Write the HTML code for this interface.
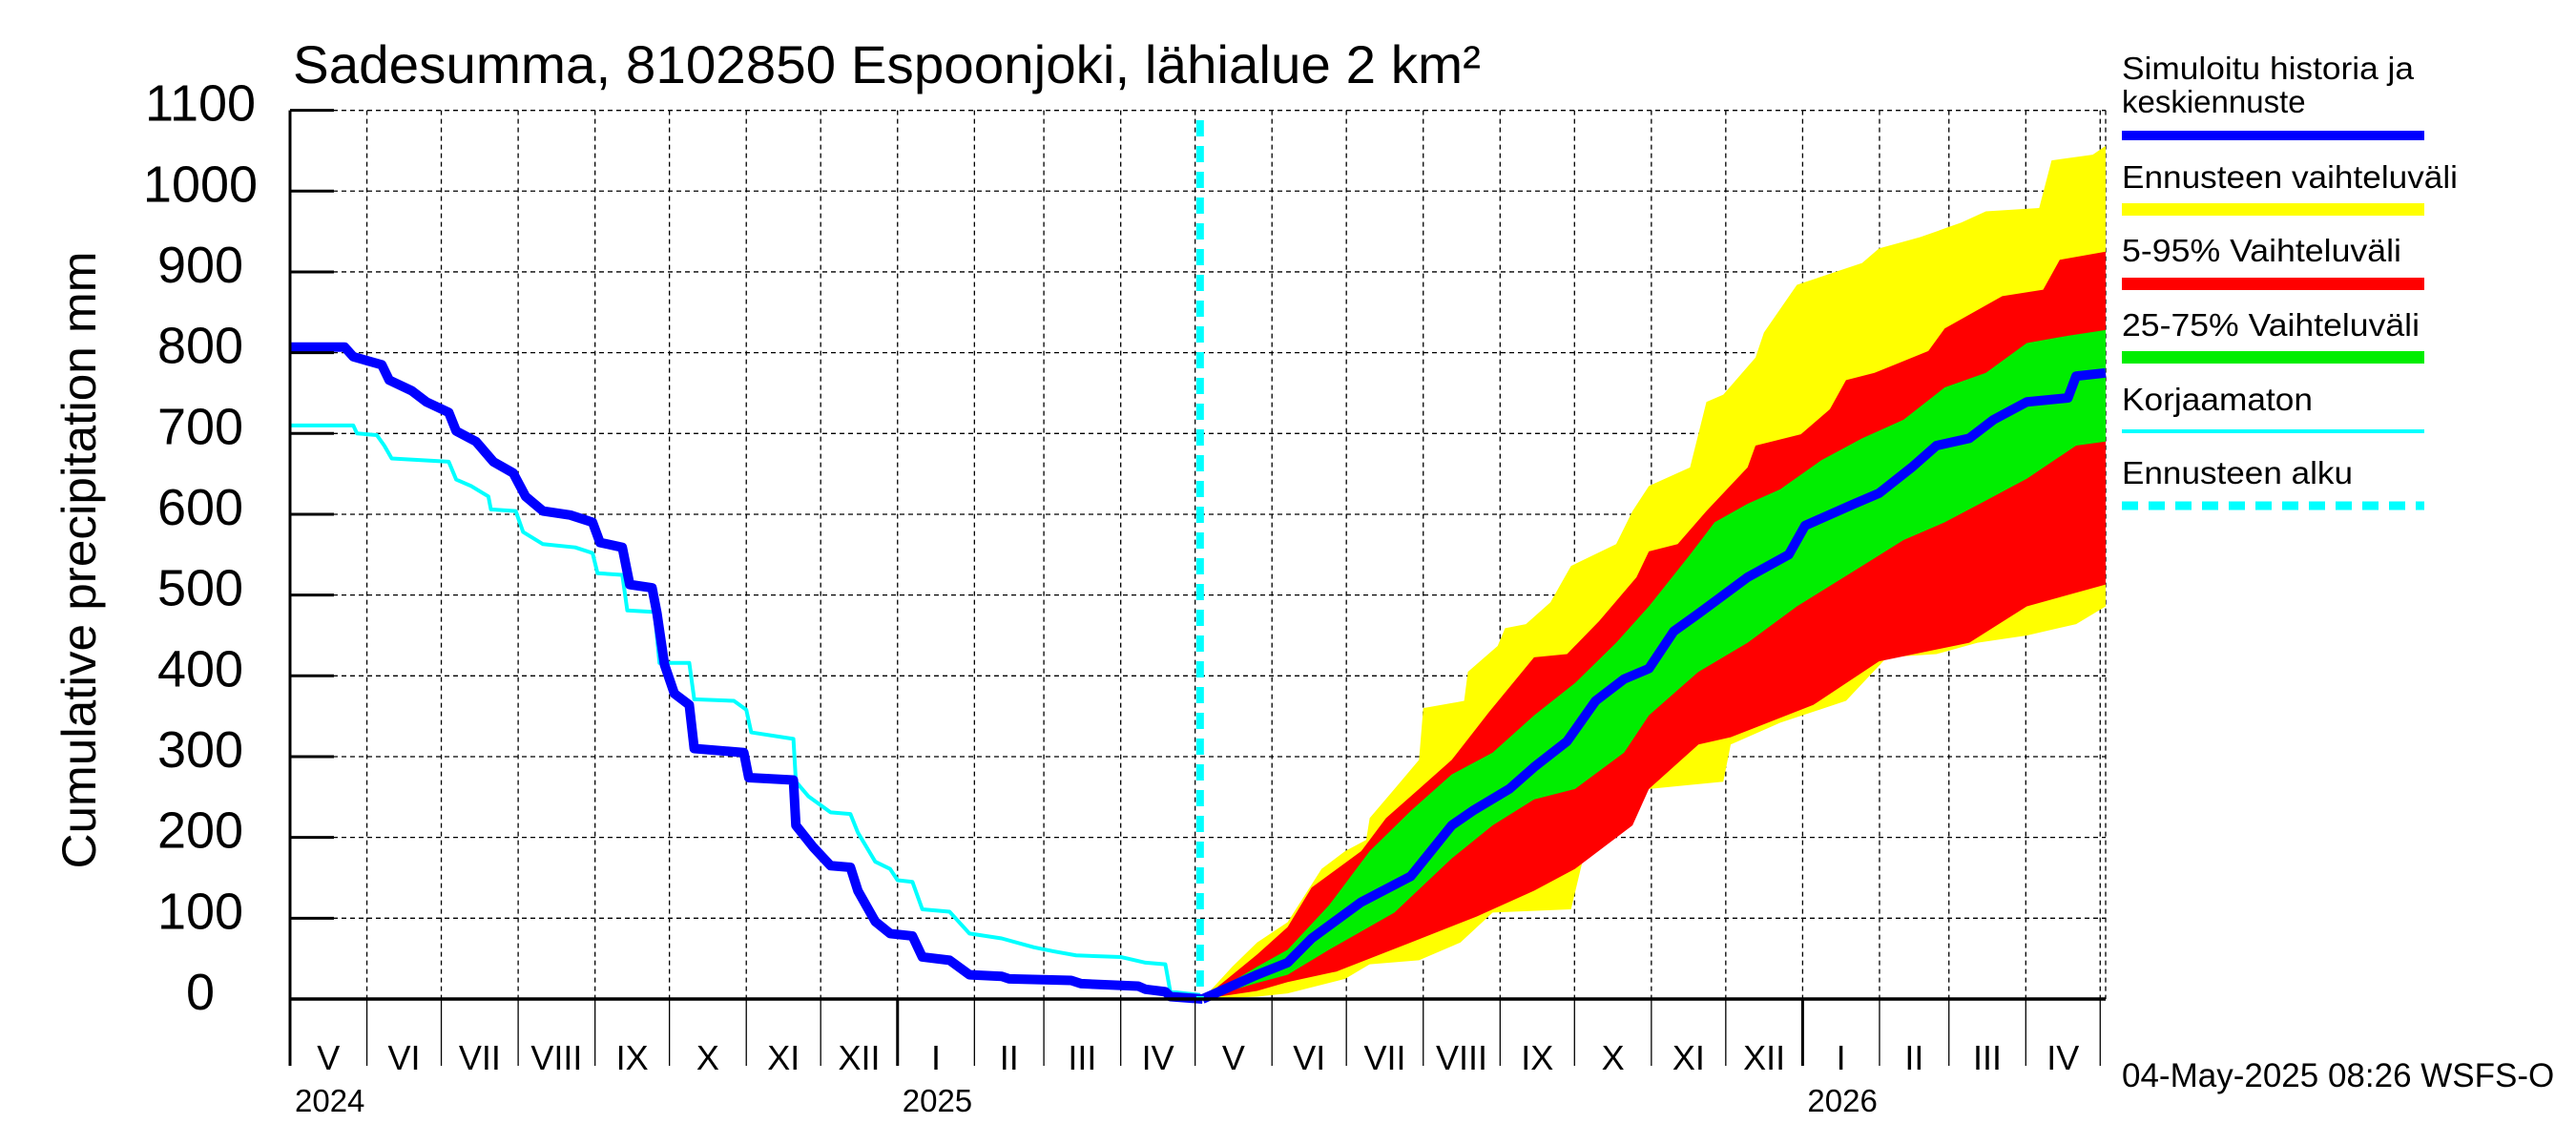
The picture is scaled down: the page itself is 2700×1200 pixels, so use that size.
<!DOCTYPE html>
<html><head><meta charset="utf-8"><style>
html,body{margin:0;padding:0;background:#fff;}
svg{display:block;font-family:"Liberation Sans",sans-serif;}
</style></head><body>
<svg id="chart" width="2700" height="1200" viewBox="0 0 2700 1200" xmlns="http://www.w3.org/2000/svg">
<rect x="0" y="0" width="2700" height="1200" fill="#fff"/>
<text x="307" y="87" font-size="56" textLength="1245" lengthAdjust="spacingAndGlyphs">Sadesumma, 8102850 Espoonjoki, lähialue 2 km²</text>
<text transform="translate(100,587) rotate(-90)" text-anchor="middle" font-size="50" textLength="647" lengthAdjust="spacingAndGlyphs">Cumulative precipitation   mm</text>
<g id="grid"></g>
<g id="bands"></g>
<g id="lines"></g>
<g id="axes"></g>
<g id="legend" font-size="33">
  <text x="2224" y="83" textLength="306" lengthAdjust="spacingAndGlyphs">Simuloitu historia ja</text>
  <text x="2224" y="118">keskiennuste</text>
  <rect x="2224" y="137" width="317" height="10" fill="#0000ff"/>
  <text x="2224" y="197" textLength="352" lengthAdjust="spacingAndGlyphs">Ennusteen vaihteluväli</text>
  <rect x="2224" y="213" width="317" height="13" fill="#ffff00"/>
  <text x="2224" y="274" textLength="293" lengthAdjust="spacingAndGlyphs">5-95% Vaihteluväli</text>
  <rect x="2224" y="291" width="317" height="13" fill="#ff0000"/>
  <text x="2224" y="352" textLength="312" lengthAdjust="spacingAndGlyphs">25-75% Vaihteluväli</text>
  <rect x="2224" y="368" width="317" height="13" fill="#00ee00"/>
  <text x="2224" y="430" textLength="200" lengthAdjust="spacingAndGlyphs">Korjaamaton</text>
  <rect x="2224" y="450" width="317" height="4" fill="#00ffff"/>
  <text x="2224" y="507" textLength="242" lengthAdjust="spacingAndGlyphs">Ennusteen alku</text>
  <line x1="2224" y1="530" x2="2541" y2="530" stroke="#00ffff" stroke-width="9" stroke-dasharray="17,11"/>
</g>
<text x="2224" y="1139" font-size="35">04-May-2025 08:26 WSFS-O</text>
</svg>
<script>
// ---- data (days since 2024-05-01, cumulative mm) ----
const histDays = [0,22,25.5,37,40,49,55,64,67,75,82,90,95,102,113,122,125,134,137,146,148,151,155,161,163,183,185,203,204,211,218,226,229,236,242,251,255,266,274,287,290,315,319,342,345,353,355,368];
const histValues = [807,807,795,785,766,753,739,726,703,690,665,651,622,604,599,590,565,559,513,509,477,414,378,364,310,305,274,271,215,188,165,163,134,96,81,78,52,48,30,28,25,23,19,16,12,9,3,0];
const uncDays = [0,25.5,27,35,38,41,64,67,73,80,81,91,94,102,115,122,124,134,136,147,149,161,163,179,184,186,203,204,209,218,226,229,236,242,245,251,255,266,274,287,300,308,317,335,345,353,355,367];
const uncValues = [710,710,700,698,685,669,665,643,635,622,606,604,578,563,559,552,527,525,481,479,416,416,371,369,358,330,322,269,251,231,229,206,170,161,147,145,111,108,81,75,64,59,54,52,45,43,9,5];
const maxDays = [368,380,390,402.3,416,425.5,434,435.4,445.4,455.3,457,473.5,475,487,490,498.4,508.3,516.6,534.8,541.4,548,564.6,571.2,578,591,594.4,607.7,634,640.8,657.4,674,683.9,705.4,710.4,727,732.2];
const maxValues = [0,40,70,95,161,183,197,224,260,296,360,369,405,437,459,464,491,536,563,604,635,658,739,748,794,825,884,911,929,943,961,975,979,1038,1045,1056];
const p95Days = [368,390,402.3,412,432,442,455.3,468.5,483.5,501.7,515,528,543,548,559.6,571.2,587.8,591,609.3,621,627.5,639,660.7,667.3,690.5,707,713.7,732.2];
const p95Values = [0,55,89,138,183,224,260,296,355,423,427,468,522,554,563,604,658,685,699,730,766,775,802,830,870,878,915,925];
const p75Days = [368,390,402.3,419,435.4,452,468.5,485,501.7,518.2,534.8,548,564.6,574.5,587.8,601,617.6,634,650.7,667.3,683.9,700.4,717,732.2];
const p75Values = [0,40,61,116,183,233,278,305,351,391,441,486,550,590,613,631,667,694,717,757,775,812,821,828];
const medDays = [368,390,402.3,412,432,452,468.5,477,491.7,501.7,515,526.5,538,548,558,568,587.8,604.4,611,630.9,640.8,654,664,677.2,687,700.4,717,720.3,732.2];
const medValues = [0,30,45,75,120,152,215,233,260,287,319,369,396,409,455,477,522,550,586,613,626,658,685,694,717,739,744,771,775];
const p25Days = [368,390,402.3,419,445.4,468.5,485,501.7,518.2,538,548,568,587.8,607.7,634,650.7,667.3,683.9,700.4,720.3,732.2];
const p25Values = [0,20,30,61,107,174,215,247,260,305,351,405,441,486,536,568,590,617,644,685,690];
const p5Days = [368,390,402.3,422,452,478.5,501.7,518.2,541.4,548,568,581,614.3,640.8,677.2,700.4,732.2];
const p5Values = [0,10,21,34,70,102,134,161,215,260,315,324,364,418,441,486,513];
const minDays = [368,390,402.3,425.5,435.4,455.3,472,485,516.6,521.5,538,548,578,581,601,627.5,644,664,680.5,700.4,720.3,732.2];
const minValues = [0,3,7,25,43,48,70,107,111,174,215,260,269,315,342,369,423,427,441,450,464,486];
const forecastStartDay = [367];
const yTicks = [0,100,200,300,400,500,600,700,800,900,1000,1100];
const monthNames = ["I","II","III","IV","V","VI","VII","VIII","IX","X","XI","XII"];

// ---- axes ----
const X0=304, X1=2207, Y0=1047, Y1=115.6, DAYMAX=732.2, VMAX=1100;
const xs = d => X0 + d*(X1-X0)/DAYMAX;
const ys = v => Y0 - v*(Y0-Y1)/VMAX;
const NS="http://www.w3.org/2000/svg";
function mk(tag, attrs, parent){const e=document.createElementNS(NS,tag);for(const k in attrs)e.setAttribute(k,attrs[k]);parent.appendChild(e);return e;}
const grid=document.getElementById('grid'), bands=document.getElementById('bands'), lines=document.getElementById('lines'), axes=document.getElementById('axes');
const start=Date.UTC(2024,4,1);
const dayOf=(y,m)=>(Date.UTC(y,m,1)-start)/86400000;

yTicks.forEach(v=>{
  const g=mk('line',{x1:X0,x2:X1,y1:ys(v),y2:ys(v),stroke:'#000','stroke-width':1.3,'stroke-dasharray':'5,4'},grid);
  
  
  const t=mk('line',{x1:X0,x2:350,y1:ys(v),y2:ys(v),stroke:'#000','stroke-width':3},axes);
  
  
  const l=mk('text',{x:210,y:ys(v)+11,'text-anchor':'middle','font-size':54},axes);
  l.textContent=v;
  
  
});
const bounds=[];
for(let i=0;i<=25;i++){const y=2024+Math.floor((4+i)/12), m=(4+i)%12; bounds.push({d:dayOf(y,m),y:y,m:m});}
bounds.forEach((b,i)=>{
  if(b.d>DAYMAX) return;
  const x=xs(b.d);
  if(b.d>0){
    const g=mk('line',{x1:x,x2:x,y1:Y1,y2:Y0,stroke:'#000','stroke-width':1.3,'stroke-dasharray':'5,4'},grid);
    
    
  }
  const t=mk('line',{x1:x,x2:x,y1:Y0,y2:1117,stroke:'#000','stroke-width':b.m===0?3:1.3},axes);
  
  
  if(i<bounds.length-1 && b.d<DAYMAX-5){
    const l=mk('text',{x:(x+xs(bounds[i+1].d))/2,y:1121,'text-anchor':'middle','font-size':36},axes);
    l.textContent=monthNames[b.m];
    
    
  }
  if(b.m===0 || i===0){
    const yl=mk('text',{x:x+5,y:1165,'font-size':33},axes);
    yl.textContent=b.y;
    
    
  }
});
const tb=mk('line',{x1:X0,x2:X1,y1:Y1,y2:Y1,stroke:'#000','stroke-width':1.3,'stroke-dasharray':'5,4'},grid);


const rb=mk('line',{x1:X1,x2:X1,y1:Y1,y2:Y0,stroke:'#000','stroke-width':1.3,'stroke-dasharray':'5,4'},grid);



function band(d1,v1,d2,v2,color,name){
  const pts=d1.map((d,i)=>xs(d)+','+ys(v1[i]));
  for(let i=d2.length-1;i>=0;i--) pts.push(xs(d2[i])+','+ys(v2[i]));
  const p=mk('polygon',{points:pts.join(' '),fill:color},bands);
  
  
}
band(maxDays,maxValues,minDays,minValues,'#ffff00','band-min-max');
band(p95Days,p95Values,p5Days,p5Values,'#ff0000','band-5-95');
band(p75Days,p75Values,p25Days,p25Values,'#00ee00','band-25-75');

function line(ds,vs,color,w,name){
  const p=mk('polyline',{points:ds.map((d,i)=>xs(d)+','+ys(vs[i])).join(' '),fill:'none',stroke:color,'stroke-width':w,'stroke-linejoin':'round'},lines);
  
  
}
line(uncDays,uncValues,'#00ffff',4,'uncorrected-line');
line(histDays,histValues,'#0000ff',10,'simulated-history-line');
line(medDays,medValues,'#0000ff',10,'median-forecast-line');
const fs=mk('line',{x1:xs(forecastStartDay[0]),x2:xs(forecastStartDay[0]),y1:126,y2:Y0,stroke:'#00ffff','stroke-width':8,'stroke-dasharray':'17,10'},lines);



const la=mk('line',{x1:X0,x2:X0,y1:Y1,y2:1117,stroke:'#000','stroke-width':3},axes);


const ba=mk('line',{x1:X0,x2:X1,y1:Y0,y2:Y0,stroke:'#000','stroke-width':3.5},axes);


</script>
</body></html>
